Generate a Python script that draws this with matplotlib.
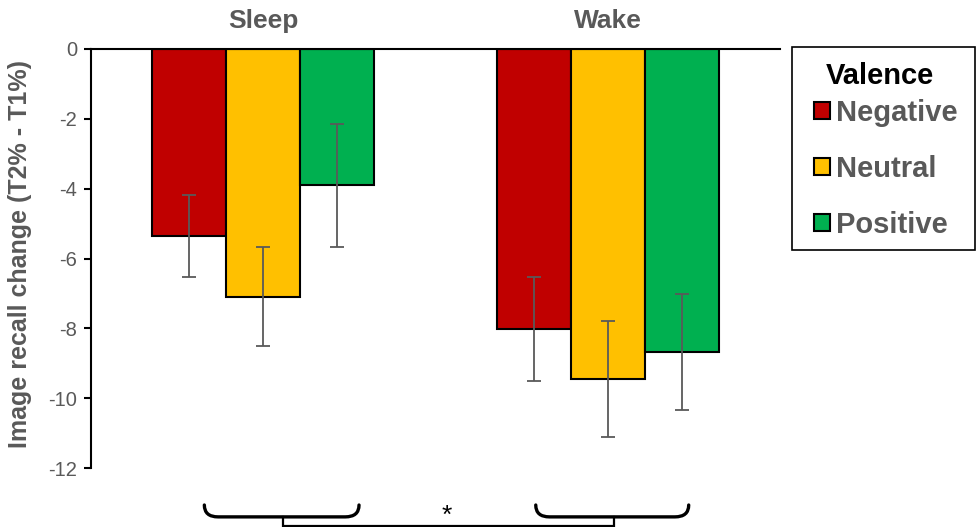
import matplotlib
matplotlib.use("Agg")
import matplotlib.pyplot as plt
from matplotlib.patches import Patch, PathPatch, Rectangle
from matplotlib.path import Path
import numpy as np

groups = ["Sleep", "Wake"]
valences = ["Negative", "Neutral", "Positive"]
means = {
    "Negative": [-5.36, -8.02],
    "Neutral": [-7.10, -9.45],
    "Positive": [-3.90, -8.68],
}
errors = {
    "Negative": [1.18, 1.50],
    "Neutral": [1.42, 1.66],
    "Positive": [1.76, 1.65],
}
colors = {"Negative": "#C00000", "Neutral": "#FFC000", "Positive": "#00B050"}
yticks = [0, -2, -4, -6, -8, -10, -12]
ylabel = "Image recall change (T2% - T1%)"
legend_title = "Valence"
sig_label = "*"

GRAY = "#595959"
plt.rcParams['font.family'] = ['Liberation Sans', 'DejaVu Sans']

W, H = 979, 527
fig = plt.figure(figsize=(W/100, H/100), dpi=100)
ax = fig.add_axes([91/W, (H-468)/H, (780-91)/W, 419/H])

width = 0.2145
x = np.arange(len(groups))
for i, v in enumerate(valences):
    pos = x + (i - 1) * width
    ax.bar(pos, means[v], width, color=colors[v], edgecolor="black", linewidth=1.5, zorder=2)
    ax.errorbar(pos, means[v], yerr=errors[v], fmt="none", ecolor=GRAY,
                elinewidth=1.3, capsize=5, capthick=1.3, zorder=3)

ax.set_xlim(-0.5, 1.5)
ax.set_ylim(-12, 0)
ax.set_yticks(yticks)
ax.set_yticklabels([str(t) for t in yticks], fontsize=14.5, color=GRAY)
ax.tick_params(axis='y', direction='out', length=5, width=1.5, color="black", pad=5)
ax.set_xticks([])
ax.spines['right'].set_visible(False)
ax.spines['bottom'].set_visible(False)
ax.spines['left'].set_linewidth(1.5)
ax.spines['top'].set_linewidth(1.5)
ax.set_ylabel(ylabel, fontsize=18, fontweight='bold', color=GRAY)
ax.yaxis.set_label_coords(-(91-32)/689, 0.51)

for xi, g in zip(x, groups):
    ax.text(xi, 1 + (49-21)/419, g, transform=ax.get_xaxis_transform(), ha='center',
            va='center', fontsize=19, fontweight='bold', color=GRAY)

# Significance braces below the axis
def brace(x0, x1, ytop, ybot, r=0.04):
    verts = [(x0, ytop), (x0, ybot), (x0 + r, ybot), (x1 - r, ybot), (x1, ybot), (x1, ytop)]
    codes = [Path.MOVETO, Path.CURVE3, Path.CURVE3, Path.LINETO, Path.CURVE3, Path.CURVE3]
    return PathPatch(Path(verts, codes), fill=False, lw=2.4, edgecolor="black",
                     clip_on=False, capstyle='round', transform=ax.transData)

ax.add_patch(brace(-0.171, 0.278, -13.06, -13.40))
ax.add_patch(brace(0.791, 1.235, -13.06, -13.40))
cx0, cx1 = 0.058, 1.017
ax.plot([cx0, cx0, cx1, cx1], [-13.40, -13.66, -13.66, -13.40], color="black", lw=1.6,
        clip_on=False, solid_joinstyle='miter')
ax.text(0.533, -13.38, sig_label, ha='center', va='center', fontsize=19, color="black")

# Legend: frame + title + entries
fig.patches.append(Rectangle((792/W, 1 - 250/H), (975-792)/W, (250-47)/H,
                             transform=fig.transFigure, fill=False, edgecolor="black",
                             linewidth=1.2))
fig.text(880/W, 1 - 76/H, legend_title, ha='center', va='center', fontsize=21,
         fontweight='bold', color="black")
handles = [Patch(facecolor=colors[v], edgecolor="black", linewidth=1.5) for v in valences]
leg = fig.legend(handles, valences, loc='center left',
                 bbox_to_anchor=(814/W, 1 - 169/H), fontsize=21, frameon=False,
                 borderpad=0, labelspacing=0.96, handlelength=0.55, handleheight=0.55,
                 handletextpad=0.22, borderaxespad=0)
for t in leg.get_texts():
    t.set_fontweight('bold')
    t.set_color(GRAY)

fig.savefig("out.png", dpi=100)
